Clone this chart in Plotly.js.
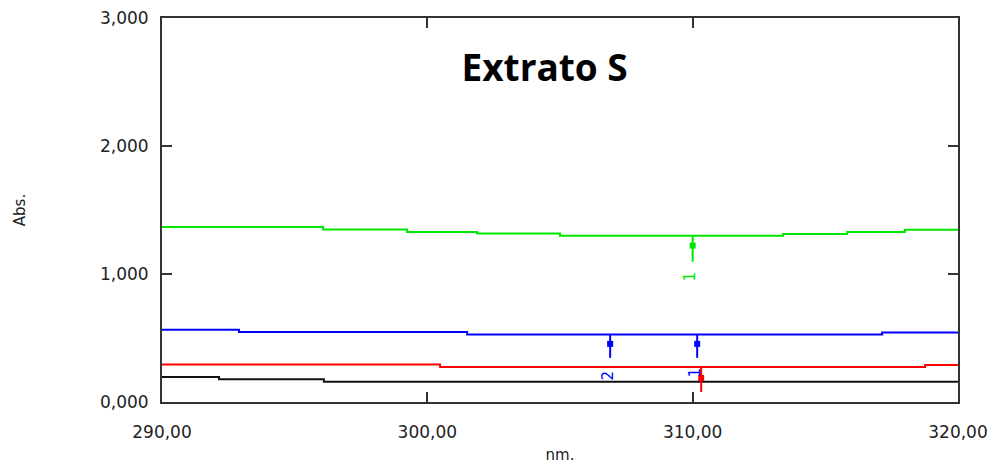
<!DOCTYPE html>
<html>
<head>
<meta charset="utf-8">
<script src="https://cdn.plot.ly/plotly-3.0.1.min.js"></script>
<style>html,body{margin:0;padding:0;background:#fff;}#chart{width:992px;height:464px;}</style>
</head>
<body>
<div id="chart"></div>
<script>
// Step spectra (wavelength breakpoints in nm, absorbance values)
const greenX = [290, 296.07, 299.23, 301.87, 305.0, 313.41, 315.82, 318.0, 320];
const greenY = [1.368, 1.347, 1.329, 1.316, 1.298, 1.313, 1.329, 1.345, 1.345];
const blueX  = [290, 292.9, 301.5, 317.14, 320];
const blueY  = [0.564, 0.546, 0.527, 0.543, 0.543];
const redX   = [290, 300.48, 318.76, 320];
const redY   = [0.292, 0.274, 0.290, 0.290];
const blackX = [290, 292.15, 296.1, 320];
const blackY = [0.196, 0.178, 0.159, 0.159];

// Peak markers: position, line top/bottom, square, label position/text
const peakX      = [310.0, 306.89, 310.17, 310.32];
const peakTop    = [1.298, 0.527, 0.527, 0.274];
const peakBottom = [1.096, 0.345, 0.345, 0.078];
const peakSquare = [1.222, 0.454, 0.454, 0.188];
const peakLabelY = [0.980, 0.211, 0.227, null];
const peakLabel  = ['1', '2', '1', ''];
const peakColor  = ['#00e600', '#0000ff', '#0000ff', '#ff0000'];

const xTicks = [290, 300, 310, 320];
const yTicks = [0, 1, 2, 3];

const traces = [
  {x: blackX, y: blackY, color: '#111111'},
  {x: redX, y: redY, color: '#ff0000'},
  {x: blueX, y: blueY, color: '#0000ff'},
  {x: greenX, y: greenY, color: '#00e600'}
].map(s => ({
  type: 'scatter', mode: 'lines', x: s.x, y: s.y,
  line: {color: s.color, width: 2, shape: 'hv'}, hoverinfo: 'skip', showlegend: false
}));

const annotations = [];
peakX.forEach((px, i) => {
  traces.push({type: 'scatter', mode: 'lines', x: [px, px], y: [peakTop[i], peakBottom[i]],
    line: {color: peakColor[i], width: 2}, showlegend: false, hoverinfo: 'skip'});
  traces.push({type: 'scatter', mode: 'markers', x: [px], y: [peakSquare[i]],
    marker: {symbol: 'square', size: 6, color: peakColor[i]}, showlegend: false, hoverinfo: 'skip'});
  if (peakLabel[i]) {
    annotations.push({x: px - 0.1, y: peakLabelY[i], xref: 'x', yref: 'y', text: peakLabel[i],
      showarrow: false, textangle: -90,
      font: {family: 'DejaVu Sans', size: 15, color: peakColor[i]}});
  }
});

const axisCommon = {
  showgrid: false, zeroline: false, showline: true, linecolor: '#333', linewidth: 2,
  mirror: 'allticks', ticks: 'inside', ticklen: 10, tickwidth: 2, tickcolor: '#333',
  tickfont: {family: 'DejaVu Sans', size: 17, color: '#222'}
};

const layout = {
  width: 992, height: 464,
  margin: {l: 162, r: 34, t: 18, b: 62},
  paper_bgcolor: '#fff', plot_bgcolor: '#fff',
  separators: ',.',
  title: {text: '<b>Extrato S</b>', x: 0.549, y: 0.853, xanchor: 'center', yanchor: 'middle', xref: 'container', yref: 'container',
    font: {family: 'Open Sans', size: 37, color: '#000'}},
  xaxis: Object.assign({}, axisCommon, {
    range: [290, 320], tickvals: xTicks, tickformat: '.2f', ticklabelstandoff: 14,
    title: {text: 'nm.', standoff: 10, font: {family: 'DejaVu Sans', size: 15, color: '#222'}}
  }),
  yaxis: Object.assign({}, axisCommon, {
    range: [0, 3], tickvals: yTicks, tickformat: '.3f', ticklabelstandoff: 8,
    title: {text: 'Abs.', standoff: 71, font: {family: 'DejaVu Sans', size: 15, color: '#222'}}
  }),
  annotations: annotations
};

Plotly.newPlot('chart', traces, layout, {displayModeBar: false, staticPlot: true});
</script>
</body>
</html>
